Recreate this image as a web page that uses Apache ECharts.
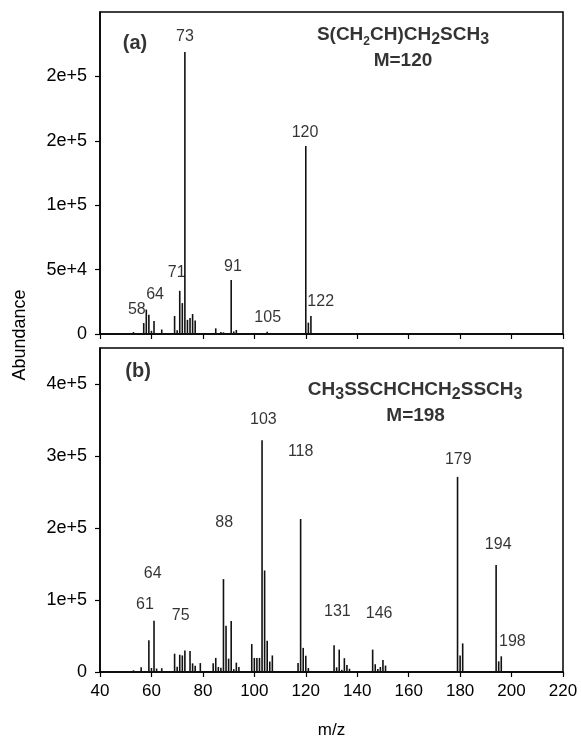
<!DOCTYPE html>
<html>
<head>
<meta charset="utf-8">
<script src="https://cdn.jsdelivr.net/npm/echarts@6/dist/echarts.min.js"></script>
<style>
  html, body { margin: 0; padding: 0; background: #fff; }
  #main { width: 581px; height: 740px; }
</style>
</head>
<body>
<div id="main"></div>
<script>
// (a) S(CH2CH)CH2SCH3, M=120
var topMz = [53, 56, 57, 58, 59, 60, 61, 64, 69, 70, 71, 72, 73, 74, 75, 76, 77, 85, 87, 88, 91, 92, 93, 105, 120, 121, 122];
var topAbund = [1500, 800, 8500, 19000, 15000, 2500, 10000, 3500, 14000, 3000, 33500, 24000, 219000, 11000, 12500, 15500, 10500, 4400, 1500, 1300, 41900, 2000, 3100, 1800, 146000, 8800, 14000];

// (b) CH3SSCHCHCH2SSCH3, M=198
var botMz = [53, 56, 59, 60, 61, 62, 64, 69, 70, 71, 72, 73, 75, 76, 77, 79, 84, 85, 86, 87, 88, 89, 90, 91, 92, 93, 94, 99, 100, 101, 102, 103, 104, 105, 106, 107, 117, 118, 119, 120, 121, 131, 132, 133, 134, 135, 136, 137, 146, 147, 148, 149, 150, 151, 179, 180, 181, 194, 195, 196];
var botAbund = [2400, 6500, 44000, 5500, 71300, 4800, 5300, 25400, 7200, 24000, 23000, 30000, 29000, 12000, 8600, 12400, 12000, 19600, 7000, 6000, 129000, 64300, 18500, 71000, 4000, 13000, 7000, 38800, 19500, 19600, 19500, 322000, 141000, 43500, 14500, 23000, 12400, 212500, 33500, 22600, 5500, 37300, 6500, 31100, 3000, 19200, 9800, 4500, 31100, 10800, 4000, 7000, 16500, 9000, 271000, 23000, 39700, 148600, 14800, 21800];

// axis ticks
var topTickVals = [0, 50000, 100000, 150000, 200000];
var topTickText = ['0', '5e+4', '1e+5', '2e+5', '2e+5'];
var botTickVals = [0, 100000, 200000, 300000, 400000];
var botTickText = ['0', '1e+5', '2e+5', '3e+5', '4e+5'];

// peak labels and where they sit (m/z, abundance)
var topLabels = ['73', '120', '91', '122', '105', '71', '64', '58'];
var topLabelMz = [73, 119.7, 91.7, 125.8, 105.2, 69.8, 61.4, 54.3];
var topLabelAb = [230600, 156100, 52000, 25100, 12400, 47400, 30300, 18600];
var botLabels = ['103', '118', '179', '88', '194', '75', '64', '61', '131', '146', '198'];
var botLabelMz = [103.5, 118, 179.3, 88.3, 194.8, 71.4, 60.5, 57.5, 132.3, 148.5, 200.3];
var botLabelAb = [350000, 306000, 295400, 207900, 176400, 77800, 136100, 93100, 83800, 81500, 42100];

var FONT = 'Liberation Sans, Arial, sans-serif';

function pairs(xs, ys) {
  return xs.map(function (x, i) { return [x, ys[i]]; });
}
function textItems(texts, xs, ys) {
  return texts.map(function (t, i) { return { name: t, value: [xs[i], ys[i]] }; });
}

var formulaRich = {
  b: { fontSize: 19, fontWeight: 'bold', lineHeight: 25, fontFamily: FONT, color: '#000' },
  s: { fontSize: 12, fontWeight: 'bold', lineHeight: 13, verticalAlign: 'bottom', fontFamily: FONT, color: '#000' },
  t: { fontSize: 16, fontWeight: 'bold', lineHeight: 16, verticalAlign: 'bottom', fontFamily: FONT, color: '#000' }
};

function xAxisCfg(idx, showLabel) {
  return {
    type: 'value', gridIndex: idx, min: 40, max: 220, interval: 20,
    axisLine: { show: true, lineStyle: { color: '#000', width: 1.5 } },
    axisTick: { show: true, inside: false, length: 5, lineStyle: { color: '#000', width: 1.2 } },
    axisLabel: { show: showLabel, fontSize: 17, color: '#000', margin: 11, fontFamily: FONT },
    splitLine: { show: false },
    name: showLabel ? 'm/z' : '',
    nameLocation: 'middle', nameGap: 50,
    nameTextStyle: { fontSize: 17, color: '#000', fontFamily: FONT }
  };
}
function yAxisCfg(idx, max, vals, texts) {
  return {
    type: 'value', gridIndex: idx, min: 0, max: max,
    axisLine: { show: true, lineStyle: { color: '#000', width: 1.5 } },
    axisTick: { show: true, inside: false, length: 5, customValues: vals, lineStyle: { color: '#000', width: 1.2 } },
    axisLabel: {
      show: true, customValues: vals, fontSize: 18, color: '#000', margin: 13, fontFamily: FONT,
      formatter: function (v) {
        var i = vals.indexOf(v);
        return i >= 0 ? texts[i] : '';
      }
    },
    splitLine: { show: false }
  };
}
function labelSeries(idx, data, extra) {
  var lab = { show: true, position: 'inside', color: '#000', fontSize: 16, fontFamily: FONT, formatter: '{b}' };
  for (var k in extra) lab[k] = extra[k];
  return {
    type: 'scatter', xAxisIndex: idx, yAxisIndex: idx, symbolSize: 0, silent: true, z: 5,
    label: lab, emphasis: { disabled: true }, data: data
  };
}

var chart = echarts.init(document.getElementById('main'));
chart.setOption({
  animation: false,
  backgroundColor: '#fff',
  textStyle: { fontFamily: FONT },
  grid: [
    { left: 100, top: 12, width: 463, height: 322, show: true, borderColor: '#000', borderWidth: 1.5, outerBoundsMode: 'none' },
    { left: 100, top: 348, width: 463, height: 324, show: true, borderColor: '#000', borderWidth: 1.5, outerBoundsMode: 'none' }
  ],
  xAxis: [xAxisCfg(0, false), xAxisCfg(1, true)],
  yAxis: [
    yAxisCfg(0, 250000, topTickVals, topTickText),
    yAxisCfg(1, 450000, botTickVals, botTickText)
  ],
  graphic: [{
    type: 'text', x: 20, y: 335, rotation: Math.PI / 2,
    style: { text: 'Abundance', fontSize: 18, fontFamily: FONT, fill: '#000', align: 'center', verticalAlign: 'middle' }
  }],
  series: [
    {
      type: 'bar', xAxisIndex: 0, yAxisIndex: 0, barWidth: 1.6, silent: true,
      itemStyle: { color: '#111' }, data: pairs(topMz, topAbund)
    },
    {
      type: 'bar', xAxisIndex: 1, yAxisIndex: 1, barWidth: 1.6, silent: true,
      itemStyle: { color: '#111' }, data: pairs(botMz, botAbund)
    },
    labelSeries(0, textItems(topLabels, topLabelMz, topLabelAb), {}),
    labelSeries(1, textItems(botLabels, botLabelMz, botLabelAb), {}),
    labelSeries(0, [{ name: '(a)', value: [53.6, 225900] }], { fontSize: 20, fontWeight: 'bold' }),
    labelSeries(1, [{ name: '(b)', value: [54.8, 417100] }], { fontSize: 20, fontWeight: 'bold' }),
    labelSeries(0, [{ name: 'S(CH2CH)CH2SCH3', value: [157.8, 232100] }], {
      rich: formulaRich,
      formatter: '{b|S(CH}{s|2}{b|CH)CH}{t|2}{b|SCH}{t|3}'
    }),
    labelSeries(0, [{ name: 'M=120', value: [157.8, 212000] }], { fontSize: 19, fontWeight: 'bold' }),
    labelSeries(1, [{ name: 'CH3SSCHCHCH2SSCH3', value: [162.5, 391700] }], {
      rich: formulaRich,
      formatter: '{b|CH}{t|3}{b|SSCHCHCH}{t|2}{b|SSCH}{t|3}'
    }),
    labelSeries(1, [{ name: 'M=198', value: [162.7, 355600] }], { fontSize: 19, fontWeight: 'bold' })
  ]
});
</script>
</body>
</html>
